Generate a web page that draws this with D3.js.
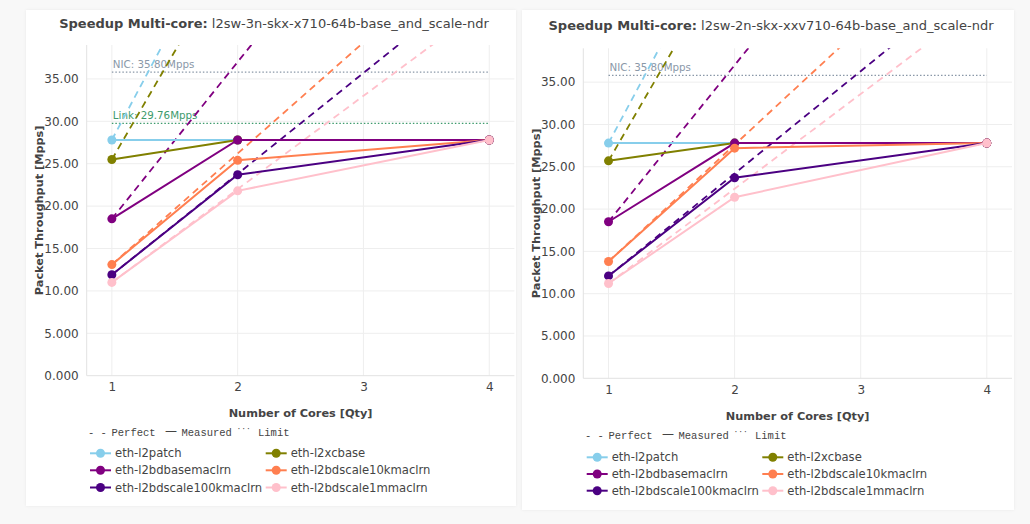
<!DOCTYPE html>
<html>
<head>
<meta charset="utf-8">
<script src="https://cdn.jsdelivr.net/npm/d3@7"></script>
<style>
  html, body { margin: 0; padding: 0; background: #f8f8f8; }
  svg { display: block; }
</style>
</head>
<body>
<svg id="chart" width="1030" height="524"></svg>
<script>
// ---------------- DATA ----------------
const cores = [1, 2, 4];
const xTickValues = [1, 2, 3, 4];
const xTickLabels = ["1", "2", "3", "4"];
const yTickValues = [0, 5, 10, 15, 20, 25, 30, 35];
const yTickLabels = ["0.000", "5.000", "10.00", "15.00", "20.00", "25.00", "30.00", "35.00"];

const seriesNames = ["eth-l2patch", "eth-l2xcbase", "eth-l2bdbasemaclrn",
                     "eth-l2bdscale10kmaclrn", "eth-l2bdscale100kmaclrn", "eth-l2bdscale1mmaclrn"];
const seriesColors = ["#87CEEB", "#808000", "#800080", "#FF7F50", "#4B0082", "#FFC0CB"];

// Left chart: l2sw-3n-skx-x710-64b-base_and_scale-ndr
const leftTitle = "l2sw-3n-skx-x710-64b-base_and_scale-ndr";
const leftMeasured = [
  [27.8, 27.8, 27.8],
  [25.5, 27.8, 27.8],
  [18.5, 27.8, 27.8],
  [13.1, 25.4, 27.8],
  [11.9, 23.7, 27.8],
  [11.0, 21.8, 27.8]
];
const leftPerfect = [
  [27.8, 55.6, 111.2],
  [25.5, 51.0, 102.0],
  [18.5, 37.0, 74.0],
  [13.1, 26.2, 52.4],
  [11.9, 23.8, 47.6],
  [11.0, 22.0, 44.0]
];
const leftLimitNames = ["NIC", "Link"];
const leftLimitValues = [35.80, 29.76];

// Right chart: l2sw-2n-skx-xxv710-64b-base_and_scale-ndr
const rightTitle = "l2sw-2n-skx-xxv710-64b-base_and_scale-ndr";
const rightMeasured = [
  [27.8, 27.8, 27.8],
  [25.7, 27.8, 27.8],
  [18.5, 27.8, 27.8],
  [13.8, 27.2, 27.8],
  [12.1, 23.7, 27.8],
  [11.2, 21.4, 27.8]
];
const rightPerfect = [
  [27.8, 55.6, 111.2],
  [25.7, 51.4, 102.8],
  [18.5, 37.0, 74.0],
  [13.8, 27.6, 55.2],
  [12.1, 24.2, 48.4],
  [11.2, 22.4, 44.8]
];
const rightLimitNames = ["NIC"];
const rightLimitValues = [35.80];

const limitColors = { NIC: "#8a98a8", Link: "#3d9a6c" };
const xDomain = [0.8, 4.2];
const yDomain = [0, 39];

// ---------------- DRAW ----------------
const svg = d3.select("#chart");
const FONT = "'DejaVu Sans', Verdana, sans-serif";
const MONO = "'Liberation Mono', 'DejaVu Sans Mono', monospace";

const defs = svg.append("defs");
const shadow = defs.append("filter").attr("id", "shadow").attr("x", "-5%").attr("y", "-5%").attr("width", "110%").attr("height", "110%");
shadow.append("feDropShadow").attr("dx", 0).attr("dy", 0).attr("stdDeviation", 1.5).attr("flood-color", "#000").attr("flood-opacity", 0.06);

function drawChart(cfg) {
  const { card, plot, title, titleX, titleY, measured, perfect, limitNames, limitValues,
          yTitleX, xTitleY, legend, id } = cfg;

  svg.append("rect").attr("x", card.x).attr("y", card.y).attr("width", card.w).attr("height", card.h)
     .attr("fill", "#fff").attr("filter", "url(#shadow)");

  const x = d3.scaleLinear().domain(xDomain).range([plot.x, plot.x + plot.w]);
  const y = d3.scaleLinear().domain(yDomain).range([plot.y + plot.h, plot.y]);

  const g = svg.append("g");

  // gridlines
  g.append("g").selectAll("line").data(yTickValues.slice(1)).join("line")
    .attr("x1", plot.x).attr("x2", plot.x + plot.w)
    .attr("y1", d => y(d)).attr("y2", d => y(d))
    .attr("stroke", "#eeeeee").attr("stroke-width", 1);
  g.append("g").selectAll("line").data(xTickValues).join("line")
    .attr("x1", d => x(d)).attr("x2", d => x(d))
    .attr("y1", plot.y).attr("y2", plot.y + plot.h)
    .attr("stroke", "#eeeeee").attr("stroke-width", 1);

  // axis lines
  g.append("line").attr("x1", plot.x).attr("x2", plot.x + plot.w)
    .attr("y1", y(0)).attr("y2", y(0)).attr("stroke", "#e2e2e2");
  g.append("line").attr("x1", plot.x).attr("x2", plot.x)
    .attr("y1", plot.y).attr("y2", plot.y + plot.h).attr("stroke", "#e2e2e2");

  // axes (tick labels) via d3 axis
  const yAxis = d3.axisLeft(y).tickValues(yTickValues)
    .tickFormat((d, i) => yTickLabels[i]).tickSize(0).tickPadding(8);
  const ya = g.append("g").attr("transform", `translate(${plot.x},0)`).call(yAxis);
  ya.select(".domain").remove();
  ya.selectAll("text").attr("font-family", FONT).attr("font-size", 12).attr("fill", "#444");

  const xAxis = d3.axisBottom(x).tickValues(xTickValues)
    .tickFormat((d, i) => xTickLabels[i]).tickSize(0).tickPadding(7);
  const xa = g.append("g").attr("transform", `translate(0,${plot.y + plot.h})`).call(xAxis);
  xa.select(".domain").remove();
  xa.selectAll("text").attr("font-family", FONT).attr("font-size", 12).attr("fill", "#444");

  // clip
  defs.append("clipPath").attr("id", "clip" + id).append("rect")
    .attr("x", plot.x).attr("y", plot.y).attr("width", plot.w).attr("height", plot.h);
  const pg = g.append("g").attr("clip-path", `url(#clip${id})`);

  // limit lines
  limitNames.forEach((name, i) => {
    const v = limitValues[i];
    pg.append("line").attr("x1", x(1)).attr("x2", x(4))
      .attr("y1", y(v)).attr("y2", y(v))
      .attr("stroke", limitColors[name]).attr("stroke-width", 1.2).attr("stroke-dasharray", "1.5,2");
    pg.append("text").attr("x", x(1) + 1).attr("y", y(v) - 4)
      .attr("font-family", FONT).attr("font-size", 10.3).attr("fill", limitColors[name])
      .text(`${name}: ${v.toFixed(2)}Mpps`);
  });

  const line = d3.line().x((d, i) => x(cores[i])).y(d => y(d));

  // perfect (dashed) lines
  perfect.forEach((vals, s) => {
    pg.append("path").attr("d", line(vals)).attr("fill", "none")
      .attr("stroke", seriesColors[s]).attr("stroke-width", 1.8).attr("stroke-dasharray", "7,5");
  });

  // measured lines + markers
  measured.forEach((vals, s) => {
    pg.append("path").attr("d", line(vals)).attr("fill", "none")
      .attr("stroke", seriesColors[s]).attr("stroke-width", 2);
    pg.append("g").selectAll("circle").data(vals).join("circle")
      .attr("cx", (d, i) => x(cores[i])).attr("cy", d => y(d)).attr("r", 4.5)
      .attr("fill", seriesColors[s]);
  });

  // title
  const t = svg.append("text").attr("x", titleX).attr("y", titleY).attr("text-anchor", "middle")
    .attr("font-family", FONT).attr("font-size", 13).attr("fill", "#444");
  t.append("tspan").attr("font-weight", "bold").text("Speedup Multi-core:");
  t.append("tspan").text(" " + title);

  // axis titles
  svg.append("text").attr("transform", `translate(${yTitleX},${plot.y + plot.h / 2}) rotate(-90)`)
    .attr("text-anchor", "middle").attr("font-family", FONT).attr("font-size", 11.3)
    .attr("font-weight", "bold").attr("fill", "#444").text("Packet Throughput [Mpps]");
  svg.append("text").attr("x", plot.x + plot.w / 2).attr("y", xTitleY)
    .attr("text-anchor", "middle").attr("font-family", FONT).attr("font-size", 11.3)
    .attr("font-weight", "bold").attr("fill", "#444").text("Number of Cores [Qty]");

  // line style legend
  const lx = legend.x, ly = legend.styleY;
  const st = (dx, txt, dy = 0, font = MONO, size = 10.5) => svg.append("text")
    .attr("x", lx + dx).attr("y", ly + dy)
    .attr("font-family", font).attr("font-size", size).attr("fill", "#444").text(txt);
  st(0, "- -");
  st(23.5, "Perfect");
  st(77, "—", -0.5, FONT, 12);
  st(93.5, "Measured");
  st(148.5, "···", -5, MONO, 8);
  st(170, "Limit");

  // series legend
  seriesNames.forEach((name, s) => {
    const col = s % 2, row = Math.floor(s / 2);
    const sx = legend.colX[col], sy = legend.rowY[row];
    svg.append("line").attr("x1", sx).attr("x2", sx + 21).attr("y1", sy).attr("y2", sy)
      .attr("stroke", seriesColors[s]).attr("stroke-width", 2);
    svg.append("circle").attr("cx", sx + 10.5).attr("cy", sy).attr("r", 4.5).attr("fill", seriesColors[s]);
    svg.append("text").attr("x", sx + 25).attr("y", sy + 4)
      .attr("font-family", FONT).attr("font-size", 11.6).attr("fill", "#444").text(name);
  });
}

drawChart({
  id: "L",
  card: { x: 26, y: 10, w: 490, h: 496 },
  plot: { x: 86.7, y: 45, w: 427.7, h: 330.7 },
  title: leftTitle, titleX: 274, titleY: 28,
  measured: leftMeasured, perfect: leftPerfect,
  limitNames: leftLimitNames, limitValues: leftLimitValues,
  yTitleX: 43, xTitleY: 417,
  legend: { x: 88, styleY: 435.5, colX: [90, 265.7], rowY: [453.3, 470.3, 487.5] }
});

drawChart({
  id: "R",
  card: { x: 522, y: 10, w: 492, h: 500 },
  plot: { x: 583.3, y: 48.3, w: 428.7, h: 330 },
  title: rightTitle, titleX: 771, titleY: 30,
  measured: rightMeasured, perfect: rightPerfect,
  limitNames: rightLimitNames, limitValues: rightLimitValues,
  yTitleX: 540, xTitleY: 420,
  legend: { x: 585, styleY: 438.5, colX: [586.7, 762.3], rowY: [457.3, 474, 490.7] }
});
</script>
</body>
</html>
